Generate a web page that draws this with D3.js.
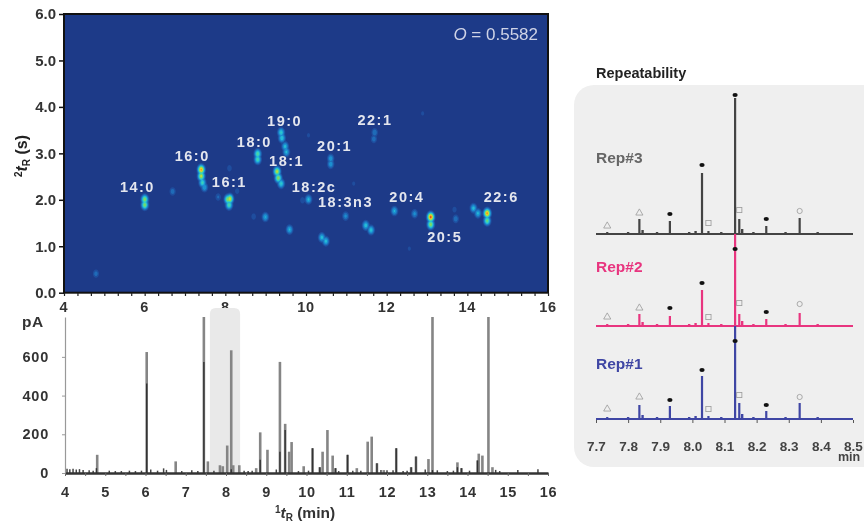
<!DOCTYPE html>
<html>
<head>
<meta charset="utf-8">
<style>
  html, body { margin: 0; background: #fff; }
  svg { display: block; filter: blur(0.45px); }
  text { font-family: "Liberation Sans", Arial, sans-serif; }
</style>
<script src="https://cdn.jsdelivr.net/npm/d3@7"></script>
</head>
<body>
<svg id="chart" width="864" height="524"></svg>
<script>
// GCxGC spots: first dimension (min), second dimension (s), response 0-1
const spotT1 = [5.99, 5.99, 7.39, 7.39, 7.42, 7.47, 8.05, 8.10, 8.08, 8.79, 8.79, 9.37, 9.39, 9.47, 9.50, 9.27, 9.30, 9.37, 6.68, 4.78, 8.98, 9.58, 8.69, 8.09, 7.81, 8.28, 10.05, 10.38, 10.48, 11.47, 11.60, 10.97, 10.60, 10.60, 11.69, 11.67, 12.18, 12.68, 13.08, 13.08, 14.48, 14.48, 14.14, 14.25, 13.70, 13.67, 12.88, 11.17, 9.90, 12.55, 10.05];
const spotT2 = [2.02, 1.90, 2.66, 2.52, 2.38, 2.28, 2.02, 2.03, 1.90, 3.00, 2.88, 3.46, 3.34, 3.16, 3.04, 2.62, 2.48, 2.36, 2.19, 0.42, 1.64, 1.37, 1.65, 2.69, 2.07, 2.20, 2.02, 1.20, 1.12, 1.46, 1.36, 1.66, 2.90, 2.78, 3.46, 3.32, 1.77, 1.71, 1.64, 1.48, 1.72, 1.56, 1.83, 1.72, 1.60, 1.80, 3.87, 2.36, 2.00, 0.96, 3.40];
const spotLevel = [0.62, 0.60, 0.86, 0.68, 0.45, 0.30, 0.62, 0.72, 0.50, 0.52, 0.48, 0.42, 0.40, 0.36, 0.34, 0.68, 0.62, 0.42, 0.18, 0.17, 0.32, 0.33, 0.11, 0.11, 0.14, 0.10, 0.34, 0.36, 0.36, 0.38, 0.38, 0.24, 0.28, 0.28, 0.20, 0.18, 0.33, 0.24, 0.96, 0.62, 0.88, 0.55, 0.36, 0.34, 0.19, 0.10, 0.08, 0.08, 0.11, 0.08, 0.08];

const spotNames = ['14:0', '16:0', '16:1', '18:0', '19:0', '18:1', '18:2c', '18:3n3', '20:1', '22:1', '20:4', '20:5', '22:6'];
const nameT1 = [5.82, 7.18, 8.10, 8.72, 9.47, 9.52, 10.20, 10.98, 10.71, 11.71, 12.50, 13.44, 14.84];
const nameT2 = [2.25, 2.92, 2.36, 3.22, 3.68, 2.82, 2.25, 1.92, 3.14, 3.70, 2.04, 1.18, 2.03];

const heatLevels = [0.06, 0.12, 0.2, 0.3, 0.4, 0.5, 0.6, 0.7, 0.8, 0.9];
const heatColors = ['#1f4d9e', '#1f6bb8', '#1c8fd0', '#25bcd6', '#3fd4b4', '#74d86c', '#bfdc3a', '#ecd428', '#ee8a22', '#dd2a1e'];

// FID trace (min, pA), 7.45 / 13.13 / 14.52 run off the top
const peakT = [4.80, 6.03, 6.75, 7.45, 7.55, 7.85, 7.92, 8.03, 8.13, 8.18, 8.33, 8.75, 8.85, 9.03, 9.34, 9.47, 9.57, 9.63, 9.93, 10.15, 10.33, 10.40, 10.52, 10.65, 10.72, 11.02, 11.25, 11.52, 11.62, 11.75, 11.92, 12.23, 12.60, 12.72, 13.03, 13.13, 13.75, 13.85, 14.25, 14.28, 14.37, 14.52, 14.62];
const peakPA = [94, 625, 60, 806, 60, 40, 35, 142, 634, 40, 40, 25, 210, 120, 574, 254, 110, 160, 35, 128, 30, 110, 222, 90, 25, 94, 25, 162, 188, 50, 15, 128, 30, 85, 72, 806, 55, 25, 65, 100, 90, 806, 30];
const coreT = [4.78, 6.03, 7.45, 8.13, 8.85, 9.34, 9.47, 10.15, 10.33, 10.72, 11.02, 11.75, 12.23, 12.60, 12.72, 13.13, 13.75, 13.85, 14.25];
const corePA = [25, 463, 574, 20, 68, 110, 222, 128, 30, 25, 94, 50, 128, 30, 85, 15, 30, 25, 65];
const noiseT = [4.05, 4.12, 4.2, 4.28, 4.36, 4.45, 4.6, 4.7, 5.1, 5.25, 5.4, 5.6, 5.75, 5.9, 6.13, 6.3, 6.45, 6.52, 6.9, 7.15, 7.3, 7.7, 8.45, 8.55, 8.65, 9.25, 9.8, 10.05, 10.8, 11.15, 11.35, 11.85, 12.0, 12.15, 12.4, 12.5, 12.95, 13.25, 13.5, 13.65, 14.05, 14.7, 14.8, 15.25, 15.75];
const noisePA = [22, 20, 22, 18, 20, 16, 14, 12, 12, 10, 10, 12, 10, 12, 18, 12, 24, 16, 10, 14, 10, 12, 12, 10, 12, 18, 10, 12, 10, 12, 12, 16, 14, 14, 10, 12, 18, 14, 10, 12, 12, 16, 10, 16, 20];

const repT = [7.735, 7.835, 7.93, 8.03, 8.05, 8.133, 8.146, 8.23, 8.334];
const repMark = ['triangle', 'triangle', 'dot', 'dot', 'square', 'dot', 'square', 'dot', 'circle'];
const rep3Peak = [2, 15, 13, 61, 3, 136, 15, 8, 16];
const rep3Mark = [8, 21, 20, 69, 11, 139, 24, 15, 23];
const rep2Peak = [2, 12, 10, 36, 3, 92, 12, 7, 13];
const rep2Mark = [9, 18, 18, 43, 9, 77, 23, 14, 22];
const rep1Peak = [2, 14, 13, 43, 3, 93, 16, 8, 16];
const rep1Mark = [10, 22, 19, 49, 10, 78, 24, 14, 22];
const repSmallT = [7.8, 7.845, 7.89, 7.99, 8.01, 8.09, 8.155, 8.19, 8.29, 8.39, 8.43, 8.46];
const repSmallH = [2, 4, 2, 2, 3, 2, 5, 2, 2, 2, 1, 1];
const repTicks = [7.7, 7.8, 7.9, 8.0, 8.1, 8.2, 8.3, 8.4, 8.5];

const svg = d3.select('#chart');

// ---- top panel
const x2d = d3.scaleLinear().domain([4, 16]).range([64, 548]);
const y2d = d3.scaleLinear().domain([0, 6]).range([292.7, 14]);

svg.append('clipPath').attr('id', 'plotclip').append('rect')
  .attr('x', 64).attr('y', 14).attr('width', 484).attr('height', 278.7);

svg.append('rect').attr('x', 64).attr('y', 14).attr('width', 484).attr('height', 278.7).attr('fill', '#1d3a88');

// peak shape only, widths stay the same for every spot
const gridW = 484, gridH = 279;
const sigmaT1 = 0.052, sigmaT2 = 0.062;
const grid = new Float64Array(gridW * gridH);
for (let j = 0; j < gridH; j++) {
  for (let i = 0; i < gridW; i++) {
    const t1 = x2d.invert(64 + i), t2 = y2d.invert(14 + j);
    let v = 0;
    spotT1.forEach((s, k) => {
      const dx = (t1 - s) / sigmaT1, dy = (t2 - spotT2[k]) / sigmaT2;
      v = Math.max(v, spotLevel[k] * Math.exp(-0.5 * (dx * dx + dy * dy)));
    });
    grid[j * gridW + i] = v;
  }
}
const contours = d3.contours().size([gridW, gridH]).thresholds(heatLevels)(grid);
const colorOf = d3.scaleOrdinal().domain(heatLevels).range(heatColors);
svg.append('g').attr('clip-path', 'url(#plotclip)')
  .append('g').attr('transform', 'translate(64,14)')
  .selectAll('path').data(contours).join('path')
  .attr('d', d3.geoPath())
  .attr('fill', d => colorOf(d.value));

svg.append('rect').attr('x', 64).attr('y', 14).attr('width', 484).attr('height', 278.7)
  .attr('fill', 'none').attr('stroke', '#111').attr('stroke-width', 2);

svg.append('g').selectAll('text').data(spotNames).join('text')
  .attr('x', (d, i) => x2d(nameT1[i]))
  .attr('y', (d, i) => y2d(nameT2[i]))
  .attr('text-anchor', 'middle').attr('dominant-baseline', 'middle')
  .attr('fill', '#e4e6ee').attr('font-weight', 'bold').attr('font-size', 14.5)
  .attr('letter-spacing', 1.5)
  .text(d => d);

const oText = svg.append('text').attr('x', 538).attr('y', 40).attr('text-anchor', 'end')
  .attr('fill', '#cfd3e6').attr('font-size', 17);
oText.append('tspan').attr('font-style', 'italic').text('O');
oText.append('tspan').text(' = 0.5582');

const topX = d3.axisBottom(x2d).tickValues(d3.range(4, 16.01, 1 / 3)).tickSize(3).tickFormat('');
svg.append('g').attr('transform', 'translate(0,293)').call(topX)
  .call(g => g.select('.domain').remove())
  .selectAll('line').attr('stroke', '#222').attr('stroke-width', 1.2);

const topY = d3.axisLeft(y2d).tickValues(d3.range(0, 7)).tickSize(5).tickPadding(3);
svg.append('g').call(g => g.attr('transform', 'translate(64,0)').call(topY))
  .call(g => g.select('.domain').remove())
  .call(g => g.selectAll('line').attr('stroke', '#111').attr('stroke-width', 1.5))
  .selectAll('text').attr('font-size', 15).attr('font-weight', 'bold').attr('fill', '#333')
  .style('font-family', '"Liberation Sans", Arial, sans-serif');

svg.append('g').selectAll('text').data([4, 6, 8, 10, 12, 14, 16]).join('text')
  .attr('x', d => x2d(d) + 0)
  .attr('y', 308).attr('dominant-baseline', 'middle').attr('text-anchor', 'middle')
  .attr('font-size', 14.5).attr('font-weight', 'bold').attr('fill', '#333').attr('letter-spacing', 0.8)
  .text(d => d);

const yTitle = svg.append('text').attr('transform', 'translate(27,156) rotate(-90)')
  .attr('text-anchor', 'middle').attr('font-size', 16).attr('font-weight', 'bold').attr('fill', '#222');
yTitle.append('tspan').attr('font-size', 10).attr('dy', -5).text('2');
yTitle.append('tspan').attr('font-style', 'italic').attr('dy', 5).text('t');
yTitle.append('tspan').attr('font-size', 10).attr('dy', 3).text('R');
yTitle.append('tspan').attr('dy', -3).text(' (s)');

// ---- FID trace
const xLow = d3.scaleLinear().domain([4, 16]).range([65, 548]);
const yLow = d3.scaleLinear().domain([0, 806]).range([473, 317]);

svg.append('path')
  .attr('d', d3.path ? (() => {
    const p = d3.path(), a = xLow(7.6), b = xLow(8.35), t = 308, r = 6;
    p.moveTo(a, yLow(0));
    p.lineTo(a, t + r);
    p.quadraticCurveTo(a, t, a + r, t);
    p.lineTo(b - r, t);
    p.quadraticCurveTo(b, t, b, t + r);
    p.lineTo(b, yLow(0));
    p.closePath();
    return p.toString();
  })() : null)
  .attr('fill', '#e9e9e9');

svg.append('g').selectAll('line').data(peakT).join('line')
  .attr('x1', d => xLow(d)).attr('x2', d => xLow(d))
  .attr('y1', yLow(0)).attr('y2', (d, i) => yLow(peakPA[i]))
  .attr('stroke', '#858585').attr('stroke-width', 2.6);

svg.append('g').selectAll('line').data(coreT).join('line')
  .attr('x1', d => xLow(d)).attr('x2', d => xLow(d))
  .attr('y1', yLow(0)).attr('y2', (d, i) => yLow(corePA[i]))
  .attr('stroke', '#333').attr('stroke-width', 1.4);

svg.append('g').selectAll('line').data(noiseT).join('line')
  .attr('x1', d => xLow(d)).attr('x2', d => xLow(d))
  .attr('y1', yLow(0)).attr('y2', (d, i) => yLow(noisePA[i]))
  .attr('stroke', '#444').attr('stroke-width', 1.5);

const lowX = d3.axisBottom(xLow).tickValues(d3.range(4, 16.01, 0.5)).tickSize(3).tickSizeOuter(0)
  .tickFormat(d => (d % 1 === 0 ? d : ''));
svg.append('g').attr('transform', 'translate(0,473)').call(lowX)
  .call(g => g.select('.domain').attr('stroke', '#333').attr('stroke-width', 2.4))
  .call(g => g.selectAll('line').attr('stroke', '#666'))
  .selectAll('text').attr('y', 14).attr('font-size', 14.5).attr('font-weight', 'bold').attr('fill', '#333')
  .attr('letter-spacing', 0.8)
  .style('font-family', '"Liberation Sans", Arial, sans-serif');

const lowY = d3.axisLeft(yLow).tickValues([0, 200, 400, 600]).tickSize(3).tickSizeOuter(0).tickPadding(13);
svg.append('g').attr('transform', 'translate(65,0)').call(lowY)
  .call(g => g.select('.domain').attr('stroke', '#999').attr('stroke-width', 1.2))
  .call(g => g.selectAll('line').attr('stroke', '#999'))
  .selectAll('text').attr('font-size', 14.5).attr('font-weight', 'bold').attr('fill', '#333')
  .attr('letter-spacing', 0.8)
  .style('font-family', '"Liberation Sans", Arial, sans-serif');

svg.append('text').attr('x', 22).attr('y', 327).attr('font-size', 15.5).attr('font-weight', 'bold')
  .attr('fill', '#333').attr('letter-spacing', 0.6).text('pA');

const xTitle = svg.append('text').attr('x', 305).attr('y', 518)
  .attr('text-anchor', 'middle').attr('font-size', 15.5).attr('font-weight', 'bold').attr('fill', '#333');
xTitle.append('tspan').attr('font-size', 10).attr('dy', -5).text('1');
xTitle.append('tspan').attr('font-style', 'italic').attr('dy', 5).text('t');
xTitle.append('tspan').attr('font-size', 10).attr('dy', 3).text('R');
xTitle.append('tspan').attr('dy', -3).text(' (min)');

// ---- repeatability
svg.append('text').attr('x', 596).attr('y', 78).attr('font-size', 14.5).attr('font-weight', 'bold')
  .attr('fill', '#222').text('Repeatability');
svg.append('rect').attr('x', 574).attr('y', 85).attr('width', 310).attr('height', 382)
  .attr('rx', 20).attr('fill', '#efefef');

const xRep = d3.scaleLinear().domain([7.7, 8.5]).range([596, 853]);
const yRep = d3.scaleLinear().domain([0, 100]).range([0, -100]);

const reps = [
  { name: 'Rep#3', base: 234, peak: rep3Peak, mark: rep3Mark, color: '#444444', labelColor: '#666666', labelY: 159 },
  { name: 'Rep#2', base: 326, peak: rep2Peak, mark: rep2Mark, color: '#e8357f', labelColor: '#e8357f', labelY: 268 },
  { name: 'Rep#1', base: 419, peak: rep1Peak, mark: rep1Mark, color: '#3f46a4', labelColor: '#3f46a4', labelY: 365 }
];

reps.forEach(rep => {
  const g = svg.append('g').attr('transform', `translate(0,${rep.base})`);
  g.append('line').attr('x1', xRep(7.7)).attr('x2', xRep(8.5)).attr('stroke', rep.color).attr('stroke-width', 2.2);
  g.selectAll('line.small').data(repSmallT).join('line').attr('class', 'small')
    .attr('x1', d => xRep(d)).attr('x2', d => xRep(d))
    .attr('y1', 0).attr('y2', (d, i) => yRep(repSmallH[i]))
    .attr('stroke', rep.color).attr('stroke-width', 2.4);
  g.selectAll('line.peak').data(repT).join('line').attr('class', 'peak')
    .attr('x1', d => xRep(d)).attr('x2', d => xRep(d))
    .attr('y1', 0).attr('y2', (d, i) => yRep(rep.peak[i]))
    .attr('stroke', rep.color).attr('stroke-width', 2.2);

  const marks = g.selectAll('g.mark').data(repT).join('g').attr('class', 'mark')
    .attr('transform', (d, i) => `translate(${xRep(d)},${yRep(rep.mark[i])})`);
  marks.each(function (d, i) {
    const kind = repMark[i], m = d3.select(this);
    if (kind === 'dot') {
      m.append('ellipse').attr('rx', 2.6).attr('ry', 2.1).attr('fill', '#111');
    } else if (kind === 'circle') {
      m.append('circle').attr('r', 2.6).attr('fill', 'none').attr('stroke', '#999').attr('stroke-width', 0.8);
    } else if (kind === 'square') {
      m.append('rect').attr('x', -2.6).attr('y', -2.6).attr('width', 5.2).attr('height', 5.2)
        .attr('fill', 'none').attr('stroke', '#999').attr('stroke-width', 0.8);
    } else {
      m.append('path').attr('d', d3.symbol(d3.symbolTriangle, 22)())
        .attr('fill', 'none').attr('stroke', '#999').attr('stroke-width', 0.8);
    }
  });

  svg.append('text').attr('x', 596).attr('y', rep.labelY).attr('dominant-baseline', 'middle')
    .attr('font-size', 15.5).attr('font-weight', 'bold').attr('fill', rep.labelColor).text(rep.name);
});

const repAxis = d3.axisBottom(xRep).tickValues(repTicks).tickSize(3).tickSizeOuter(0).tickFormat(d3.format('.1f'));
svg.append('g').attr('transform', 'translate(0,420)').call(repAxis)
  .call(g => g.select('.domain').remove())
  .call(g => g.selectAll('line').attr('stroke', '#555'))
  .selectAll('text').attr('y', 21).attr('font-size', 13.5).attr('font-weight', 'bold').attr('fill', '#444')
  .style('font-family', '"Liberation Sans", Arial, sans-serif');

svg.append('text').attr('x', 838).attr('y', 461).attr('font-size', 12.5).attr('font-weight', 'bold')
  .attr('fill', '#444').text('min');
</script>
</body>
</html>
